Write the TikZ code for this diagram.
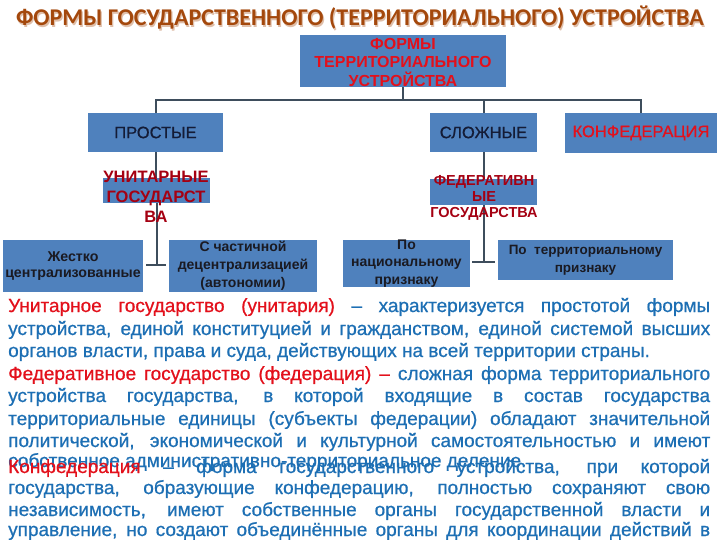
\documentclass[tikz,border=0pt]{standalone}
\usepackage{fontspec}
\setmainfont{Liberation Sans}
\newfontfamily\ttlfont{Carlito}
\newfontfamily\parafont{Liberation Sans}[FakeBold=0.7]
\definecolor{boxblue}{HTML}{4F81BD}
\definecolor{conngray}{HTML}{3E4D5C}
\definecolor{ttlbrown}{HTML}{A4480C}
\definecolor{redtxt}{HTML}{E3101B}
\definecolor{darkred}{HTML}{A50012}
\definecolor{bluetxt}{HTML}{1D6FB4}
\definecolor{navy}{HTML}{141C36}
\definecolor{darktxt}{HTML}{1A1A22}
\newcommand{\jl}[2]{\makebox[#1][s]{#2}}
\newcommand{\rd}[1]{\textcolor{redtxt}{#1}}
\begin{document}
\begin{tikzpicture}[x=1pt,y=-1pt,
  box/.style={fill=boxblue, draw=none, inner sep=0pt, align=center},
  conn/.style={draw=conngray, line width=2pt},
  ptxt/.style={anchor=base west, inner sep=0pt, text=bluetxt, font=\parafont\fontsize{19}{22}\selectfont},
  hdr/.style={font=\parafont\fontsize{16.5}{18}\selectfont},
  low/.style={font=\fontsize{14}{17}\selectfont\bfseries, text=darktxt}]
\useasboundingbox (0,0) rectangle (720,540);
\fill[white] (0,0) rectangle (720,540);
% title
\node[font=\ttlfont\bfseries\fontsize{24}{28}\selectfont, text=ttlbrown!35, inner sep=0pt] (titlesh) at (361.2,19.2) {ФОРМЫ ГОСУДАРСТВЕННОГО (ТЕРРИТОРИАЛЬНОГО) УСТРОЙСТВА};
\node[font=\ttlfont\bfseries\fontsize{24}{28}\selectfont, text=ttlbrown, inner sep=0pt] (title) at (360,18) {ФОРМЫ ГОСУДАРСТВЕННОГО (ТЕРРИТОРИАЛЬНОГО) УСТРОЙСТВА};
% boxes
\node[box, minimum width=206, minimum height=52] (top) at (403,61) {};
\node[box, minimum width=135, minimum height=39, hdr, text=navy] (prost) at (155.5,132.5) {ПРОСТЫЕ};
\node[box, minimum width=107, minimum height=39, hdr, text=navy] (slozh) at (483.5,132.5) {СЛОЖНЫЕ};
\node[box, minimum width=152, minimum height=40, hdr, text=redtxt] (konf) at (641,133) {КОНФЕДЕРАЦИЯ};
\node[box, minimum width=107, minimum height=25] (unit) at (156.5,190.5) {};
\node[box, minimum width=107, minimum height=26] (fed) at (483.5,192) {};
\node[box, minimum width=140, minimum height=52, low, font=\fontsize{14.2}{16.5}\selectfont\bfseries] (zhest) at (73,266) {Жестко\\централизованные};
\node[box, minimum width=148, minimum height=52, low, font=\fontsize{14}{18}\selectfont\bfseries] (chast) at (243,266) {С частичной\\децентрализацией\\(автономии)};
\node[box, minimum width=127, minimum height=47, low, font=\fontsize{14}{17.5}\selectfont\bfseries] (nac) at (406.5,263.5) {По\\национальному\\признаку};
\node[box, minimum width=175, minimum height=40, low, font=\fontsize{13.5}{18}\selectfont\bfseries] (terr) at (585.5,260) {По~ территориальному\\признаку};
% connectors
\coordinate (bus) at (403,100);
\draw[conn] (top.south) -- (top.south |- bus);
\draw[conn] (prost.north) -- (prost.north |- bus) -- (konf.north |- bus) -- (konf.north);
\draw[conn] (slozh.north) -- (slozh.north |- bus);
\draw[conn] (prost.south) -- (prost.south |- unit.north);
\draw[conn] (slozh.south) -- (slozh.south |- fed.north);
\coordinate (uj) at (156,265);
\draw[conn] (unit.south) -- (unit.south |- uj);
\draw[conn] ([xshift=3pt]zhest.east |- uj) -- ([xshift=-3pt]chast.west |- uj);
\coordinate (fj) at (484,262);
\draw[conn] (fed.south) -- (fed.south |- fj);
\draw[conn] ([xshift=2pt]nac.east |- fj) -- ([xshift=-3pt]terr.west |- fj);
% overflowing box texts
\node[align=center, inner sep=0pt, text=redtxt, font=\fontsize{16}{18.5}\selectfont\bfseries] (toptxt) at (403,62) {ФОРМЫ\\ТЕРРИТОРИАЛЬНОГО\\УСТРОЙСТВА};
\node[align=center, inner sep=0pt, text=darkred, font=\fontsize{16.5}{20}\selectfont\bfseries] (unittxt) at (156,197) {УНИТАРНЫЕ\\ГОСУДАРСТ\\ВА};
\node[align=center, inner sep=0pt, text=darkred, font=\fontsize{14.5}{16}\selectfont\bfseries] (fedtxt) at (484,198) {ФЕДЕРАТИВН\\ЫЕ\\ГОСУДАРСТВА};
% paragraphs
\node[ptxt] (l1) at (8,312) {\jl{702pt}{\rd{Унитарное государство (унитария)} – характеризуется простотой формы}};
\node[ptxt] (l2) at (8,335) {\jl{702pt}{устройства, единой конституцией и гражданством, единой системой высших}};
\node[ptxt] (l3) at (8,357) {органов власти, права и суда, действующих на всей территории страны.};
\node[ptxt] (l4) at (8,380) {\jl{702pt}{\rd{Федеративное государство (федерация) –} сложная форма территориального}};
\node[ptxt] (l5) at (8,402) {\jl{702pt}{устройства государства, в которой входящие в состав государства}};
\node[ptxt] (l6) at (8,425) {\jl{702pt}{территориальные единицы (субъекты федерации) обладают значительной}};
\node[ptxt] (l7) at (8,447) {\jl{702pt}{политической, экономической и культурной самостоятельностью и имеют}};
\node[ptxt] (l8) at (8,467) {собственное административно-территориальное деление.};
\node[ptxt] (l9) at (8,473) {\jl{702pt}{\rd{Конфедерация} – форма государственного устройства, при которой}};
\node[ptxt] (l10) at (8,494) {\jl{702pt}{государства, образующие конфедерацию, полностью сохраняют свою}};
\node[ptxt] (l11) at (8,516) {\jl{702pt}{независимость, имеют собственные органы государственной власти и}};
\node[ptxt] (l12) at (8,536) {\jl{702pt}{управление, но создают объединённые органы для координации действий в}};
\end{tikzpicture}
\end{document}
